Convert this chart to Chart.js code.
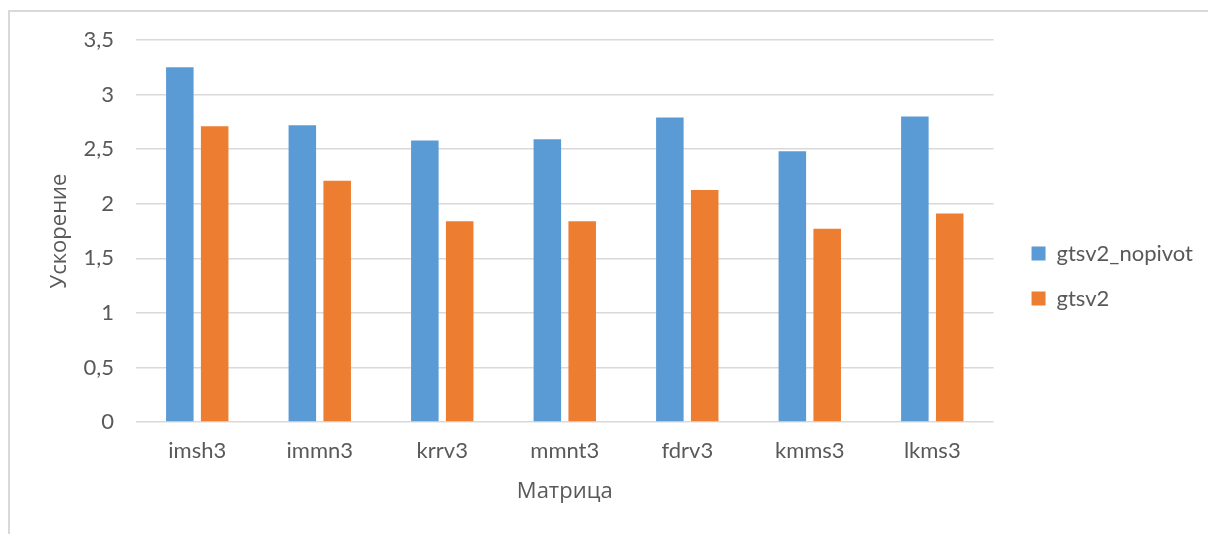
<!DOCTYPE html>
<html>
<head>
<meta charset="utf-8">
<script src="https://cdn.jsdelivr.net/npm/chart.js@4.4.1/dist/chart.umd.min.js"></script>
<style>
  html, body { margin: 0; padding: 0; background: #fff; }
  #wrap { position: relative; width: 1208px; height: 534px; overflow: hidden; }
  #frame { position: absolute; left: 8px; top: 10px; width: 1300px; height: 600px;
           border: 2px solid #d9d9d9; box-sizing: border-box; pointer-events: none; }
  canvas { position: absolute; left: 0; top: 0; }
</style>
</head>
<body>
<div id="wrap">
  <div id="frame"></div>
  <canvas id="speedupChart" width="1208" height="534"></canvas>
</div>
<script>
// Données du graphique
const matrices = ['imsh3', 'immn3', 'krrv3', 'mmnt3', 'fdrv3', 'kmms3', 'lkms3'];
const nopivot = [3.25, 2.72, 2.58, 2.59, 2.79, 2.48, 2.80];
const gtsv2 = [2.71, 2.21, 1.84, 1.84, 2.125, 1.77, 1.91];
const seriesNames = ['gtsv2_nopivot', 'gtsv2'];
const yTicks = [0, 0.5, 1, 1.5, 2, 2.5, 3, 3.5];

const textColor = '#595959';
const gridColor = '#d9d9d9';
const fontFamily = "Lato, 'Open Sans', sans-serif";
const titleFamily = "'Open Sans', sans-serif";   // Lato n'a pas le cyrillique ici

// décale la légende vers la droite (Chart.js colle la légende à la zone de tracé)
const legendShift = {
    id: 'legendShift',
    afterLayout(chart) {
        if (chart.legend) {
            chart.legend.left += 15;
            chart.legend.right += 15;
        }
    }
};

document.addEventListener('DOMContentLoaded', function() {
    const ctx = document.getElementById('speedupChart').getContext('2d');
    new Chart(ctx, {
        type: 'bar',
        data: {
            labels: matrices,
            datasets: [{
                label: seriesNames[0],
                data: nopivot,
                backgroundColor: '#5b9bd5',
                categoryPercentage: 0.569,
                barPercentage: 0.79
            }, {
                label: seriesNames[1],
                data: gtsv2,
                backgroundColor: '#ed7d31',
                categoryPercentage: 0.569,
                barPercentage: 0.79
            }]
        },
        options: {
            responsive: false,
            animation: false,
            devicePixelRatio: 1,
            layout: {
                padding: { left: 40, top: 40, bottom: 22, right: 20 }
            },
            plugins: {
                tooltip: { enabled: false },
                legend: {
                    position: 'right',
                    labels: {
                        boxWidth: 14,
                        boxHeight: 14,
                        padding: 23,
                        color: textColor,
                        font: { family: fontFamily, size: 22 }
                    }
                }
            },
            scales: {
                x: {
                    grid: { display: false, drawTicks: false },
                    border: { display: false },
                    ticks: {
                        color: textColor,
                        padding: 16,
                        font: { family: fontFamily, size: 22 }
                    },
                    title: {
                        display: true,
                        text: 'Матрица',
                        color: textColor,
                        padding: { top: 0, bottom: 7 },
                        font: { family: titleFamily, size: 22 }
                    },
                    afterFit(scale) { scale.height = 90; }
                },
                y: {
                    min: 0,
                    max: 3.5,
                    afterBuildTicks(scale) {
                        scale.ticks = yTicks.map(v => ({ value: v }));
                    },
                    grid: { color: gridColor, lineWidth: 1.5, drawTicks: false },
                    border: { display: false },
                    ticks: {
                        color: textColor,
                        padding: 22,
                        font: { family: fontFamily, size: 22 },
                        callback: v => String(v).replace('.', ',')
                    },
                    title: {
                        display: true,
                        text: 'Ускорение',
                        color: textColor,
                        padding: { top: 7, bottom: 0 },
                        font: { family: titleFamily, size: 22 }
                    },
                    afterFit(scale) { scale.width = 96; }
                }
            }
        },
        plugins: [legendShift]
    });
});
</script>
</body>
</html>
